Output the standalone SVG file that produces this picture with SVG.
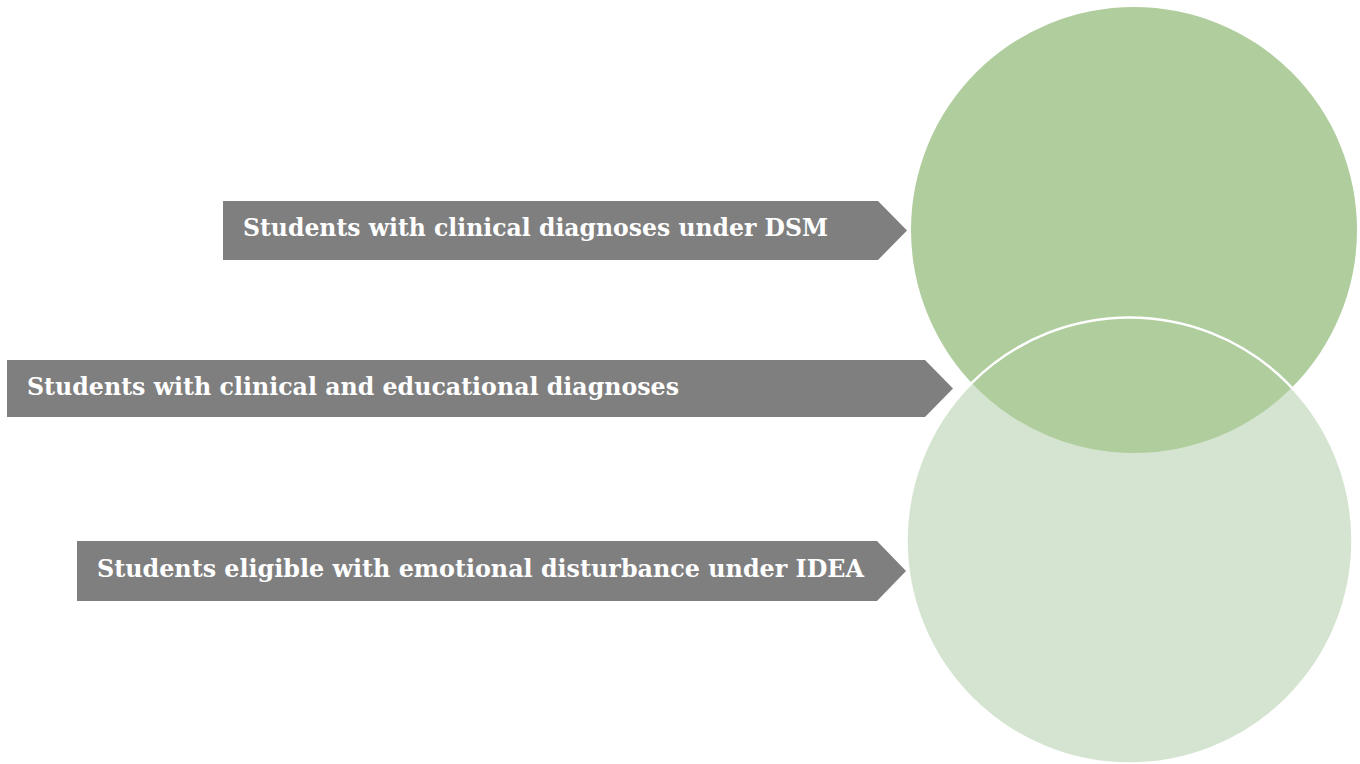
<svg xmlns="http://www.w3.org/2000/svg" width="1360" height="764" viewBox="0 0 1360 764">
<style>
.arrow{fill:#7f7f7f}
.lbl{font-family:"DejaVu Serif","Liberation Serif",serif;font-weight:bold;font-size:24.5px;fill:#ffffff}
</style>
<rect width="1360" height="764" fill="#ffffff"/>
<g id="circles">
<circle id="circle-idea" cx="1129.5" cy="540.5" r="223" fill="#d4e4d0"/>
<circle id="circle-dsm" cx="1134" cy="230" r="223" fill="#b0cd9e"/>
<circle cx="1129.5" cy="540.5" r="223" fill="none" stroke="#ffffff" stroke-width="2.5"/>
</g>
<g id="connectors"></g>
<g id="node-dsm">
<polygon class="arrow" points="223,201 878,201 907,230.5 878,260 223,260"/>
<text class="lbl" x="243" y="236" textLength="585" lengthAdjust="spacingAndGlyphs">Students with clinical diagnoses under DSM</text>
</g>
<g id="node-both">
<polygon class="arrow" points="7,360 925,360 953,388.5 925,417 7,417"/>
<text class="lbl" x="27" y="395" textLength="652" lengthAdjust="spacingAndGlyphs">Students with clinical and educational diagnoses</text>
</g>
<g id="node-idea">
<polygon class="arrow" points="77,541 877,541 906,571 877,601 77,601"/>
<text class="lbl" x="97" y="577" textLength="767" lengthAdjust="spacingAndGlyphs">Students eligible with emotional disturbance under IDEA</text>
</g>
</svg>
